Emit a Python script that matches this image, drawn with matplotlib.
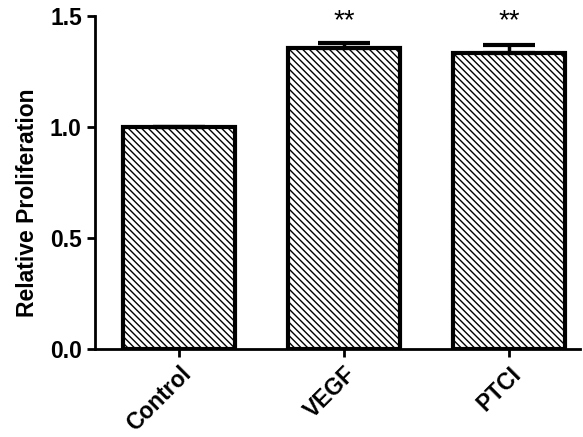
import numpy as np
import matplotlib
matplotlib.use("Agg")
import matplotlib.pyplot as plt

# data
groups = ["Control", "VEGF", "PTCI"]
means = [1.0, 1.355, 1.335]
errs = [0.0, 0.025, 0.035]
stars = ["", "**", "**"]

plt.rcParams['font.family'] = ['Liberation Sans', 'DejaVu Sans']
plt.rcParams['font.weight'] = 'bold'
plt.rcParams['hatch.linewidth'] = 1.0

fig = plt.figure(figsize=(5.83, 4.37), dpi=100)
ax = fig.add_axes([0.163, 0.201, 0.832, 0.762])

x = np.arange(len(groups))
ax.bar(x, means, width=0.68, color='white', edgecolor='black', linewidth=3,
       hatch='\\\\\\\\\\', zorder=2)
# upward-only error bars
ax.errorbar(x, means, yerr=[np.zeros(len(errs)), errs], fmt='none',
            ecolor='black', elinewidth=2.5, capsize=19, capthick=3, zorder=3)

for xi, s in zip(x, stars):
    if s:
        ax.text(xi, 1.445, s, ha='center', va='baseline', fontsize=20,
                fontweight='normal')

ax.set_xlim(-0.51, 2.43)
ax.set_ylim(0, 1.5)
ax.set_yticks([0.0, 0.5, 1.0, 1.5])
ax.set_yticklabels(["0.0", "0.5", "1.0", "1.5"])
ax.set_xticks(x)
ax.set_xticklabels(groups, rotation=45, ha='right', rotation_mode='anchor')
ax.set_ylabel("Relative Proliferation", fontsize=16.5, fontweight='bold')
ax.yaxis.set_label_coords(-0.115, 0.44)

for side in ['top', 'right']:
    ax.spines[side].set_visible(False)
for side in ['left', 'bottom']:
    ax.spines[side].set_linewidth(2)
ax.tick_params(axis='both', width=2, length=6, labelsize=16.5, direction='out')
for lab in ax.get_xticklabels() + ax.get_yticklabels():
    lab.set_fontweight('bold')

fig.savefig("out.png", dpi=100)
